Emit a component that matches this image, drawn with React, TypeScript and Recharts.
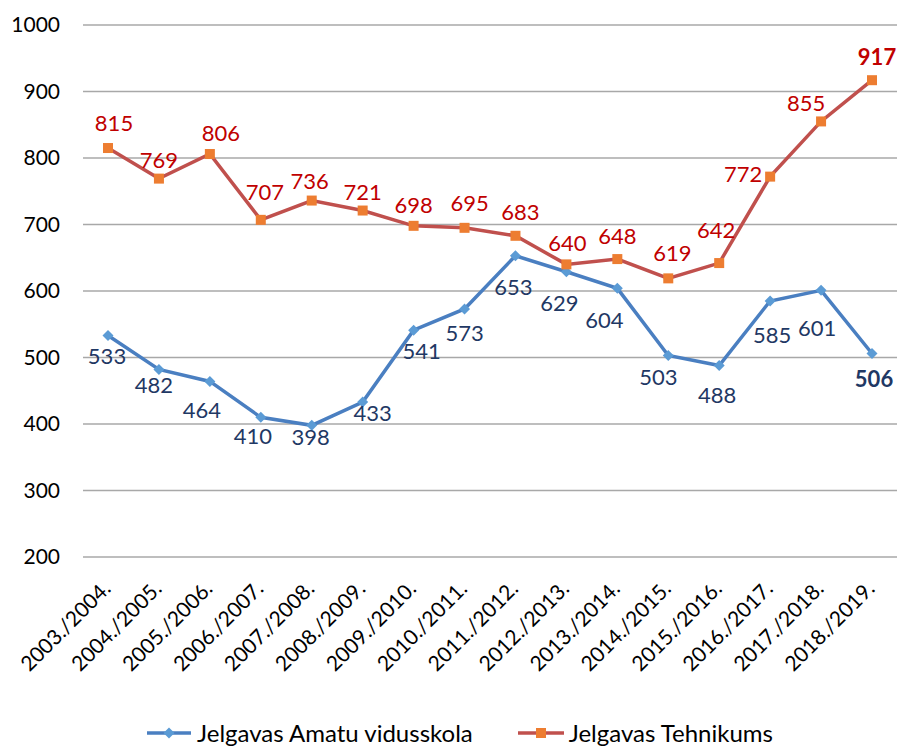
import React from 'react';
import { LineChart, Line, XAxis, YAxis, CartesianGrid, Legend } from 'recharts';

const years = [
  '2003./2004.', '2004./2005.', '2005./2006.', '2006./2007.', '2007./2008.', '2008./2009.',
  '2009./2010.', '2010./2011.', '2011./2012.', '2012./2013.', '2013./2014.', '2014./2015.',
  '2015./2016.', '2016./2017.', '2017./2018.', '2018./2019.',
];
const amatu = [533, 482, 464, 410, 398, 433, 541, 573, 653, 629, 604, 503, 488, 585, 601, 506];
const tehnikums = [815, 769, 806, 707, 736, 721, 698, 695, 683, 640, 648, 619, 642, 772, 855, 917];
const yTicks = [200, 300, 400, 500, 600, 700, 800, 900, 1000];

const SERIES_A = 'Jelgavas Amatu vidusskola';
const SERIES_T = 'Jelgavas Tehnikums';

// label nudges (styling only)
const amatuLabelNudge: [number, number][] = [
  [-1, 21], [-5, 16], [-8, 29], [-8, 19], [-1, 12], [10, 11], [8, 21], [0, 24],
  [-2, 31], [-7, 31], [-13, 32], [-10, 22], [-2, 30], [2, 34], [-4, 38], [2, 26],
];
const tehLabelNudge: [number, number][] = [
  [6, -25], [0, -19], [11, -21], [4, -28], [-2, -19], [0, -18], [0, -21], [5, -25],
  [5, -24], [1, -21], [0, -23], [4, -25], [-3, -33], [-27, -3], [-15, -18], [5, -23],
];

const data = years.map((y, i) => ({ year: y, a: amatu[i], t: tehnikums[i] }));

const FONT = 'Lato, "Open Sans", sans-serif';
const BLUE_LINE = '#4A7FC1';
const BLUE_MARK = '#5B9BD5';
const RED_LINE = '#C0504D';
const ORANGE_MARK = '#ED7D31';
const BLUE_TEXT = '#1F3864';
const RED_TEXT = '#C00000';

const makeLabel = (nudges: [number, number][], color: string, lastIdx: number) => (props: any) => {
  const { x, y, value, index } = props;
  const [dx, dy] = nudges[index] || [0, 0];
  return (
    <text
      key={`l-${index}`}
      x={x + dx}
      y={y + dy}
      dy="0.36em"
      textAnchor="middle"
      fill={color}
      fontFamily={FONT}
      fontSize={22}
      fontWeight={index === lastIdx ? 700 : 400}
    >
      {value}
    </text>
  );
};

const Diamond = (props: any) => {
  const { cx, cy, index } = props;
  const r = 5.5;
  return (
    <path
      key={`d-${index}`}
      d={`M${cx},${cy - r} L${cx + r},${cy} L${cx},${cy + r} L${cx - r},${cy} Z`}
      fill={BLUE_MARK}
    />
  );
};

const Square = (props: any) => {
  const { cx, cy, index } = props;
  const s = 10;
  return <rect key={`s-${index}`} x={cx - s / 2} y={cy - s / 2} width={s} height={s} fill={ORANGE_MARK} />;
};

const XTick = (props: any) => {
  const { x, y, payload } = props;
  return (
    <text
      transform={`translate(${x + 4},${y + 33}) rotate(-45)`}
      textAnchor="end"
      fill="#000"
      fontFamily={FONT}
      fontSize={21}
    >
      {payload.value}
    </text>
  );
};

const LegendContent = () => (
  <div
    style={{
      display: 'flex',
      justifyContent: 'center',
      alignItems: 'center',
      gap: 44,
      fontFamily: FONT,
      fontSize: 24,
      color: '#000',
      whiteSpace: 'nowrap',
      paddingLeft: 22,
    }}
  >
    <div style={{ display: 'flex', alignItems: 'center' }}>
      <svg width={46} height={16} style={{ marginRight: 5 }}>
        <line x1={1} y1={8} x2={45} y2={8} stroke={BLUE_LINE} strokeWidth={3.5} />
        <path d="M23,2.5 L28.5,8 L23,13.5 L17.5,8 Z" fill={BLUE_MARK} />
      </svg>
      <span>{SERIES_A}</span>
    </div>
    <div style={{ display: 'flex', alignItems: 'center' }}>
      <svg width={48} height={16} style={{ marginRight: 4 }}>
        <line x1={1} y1={8} x2={47} y2={8} stroke={RED_LINE} strokeWidth={3.5} />
        <rect x={19} y={3} width={10} height={10} fill={ORANGE_MARK} />
      </svg>
      <span>{SERIES_T}</span>
    </div>
  </div>
);

export default function App() {
  return (
    <div style={{ position: 'absolute', left: 0, top: 0, width: 897, height: 747, background: '#fff' }}>
      <LineChart width={897} height={747} data={data} margin={{ top: 25, right: 0, bottom: 0, left: 0 }}>
        <CartesianGrid vertical={false} stroke="#A8A8A8" strokeWidth={1.5} />
        <XAxis
          dataKey="year"
          height={190}
          padding={{ left: 25, right: 25 }}
          tickLine={false}
          axisLine={false}
          tickSize={0}
          tickMargin={0}
          interval={0}
          tick={<XTick />}
        />
        <YAxis
          width={83}
          domain={[200, 1000]}
          ticks={yTicks}
          tickLine={false}
          axisLine={false}
          tickSize={0}
          tickMargin={23}
          tick={{ fill: '#000', fontFamily: FONT, fontSize: 21 }}
        />
        <Legend
          verticalAlign="middle"
          wrapperStyle={{ position: 'absolute', left: 0, top: 718, width: 897 }}
          content={<LegendContent />}
        />
        <Line
          name={SERIES_A}
          dataKey="a"
          stroke={BLUE_LINE}
          strokeWidth={3.5}
          dot={Diamond}
          activeDot={false}
          isAnimationActive={false}
          label={makeLabel(amatuLabelNudge, BLUE_TEXT, amatu.length - 1)}
        />
        <Line
          name={SERIES_T}
          dataKey="t"
          stroke={RED_LINE}
          strokeWidth={3.5}
          dot={Square}
          activeDot={false}
          isAnimationActive={false}
          label={makeLabel(tehLabelNudge, RED_TEXT, tehnikums.length - 1)}
        />
      </LineChart>
    </div>
  );
}
